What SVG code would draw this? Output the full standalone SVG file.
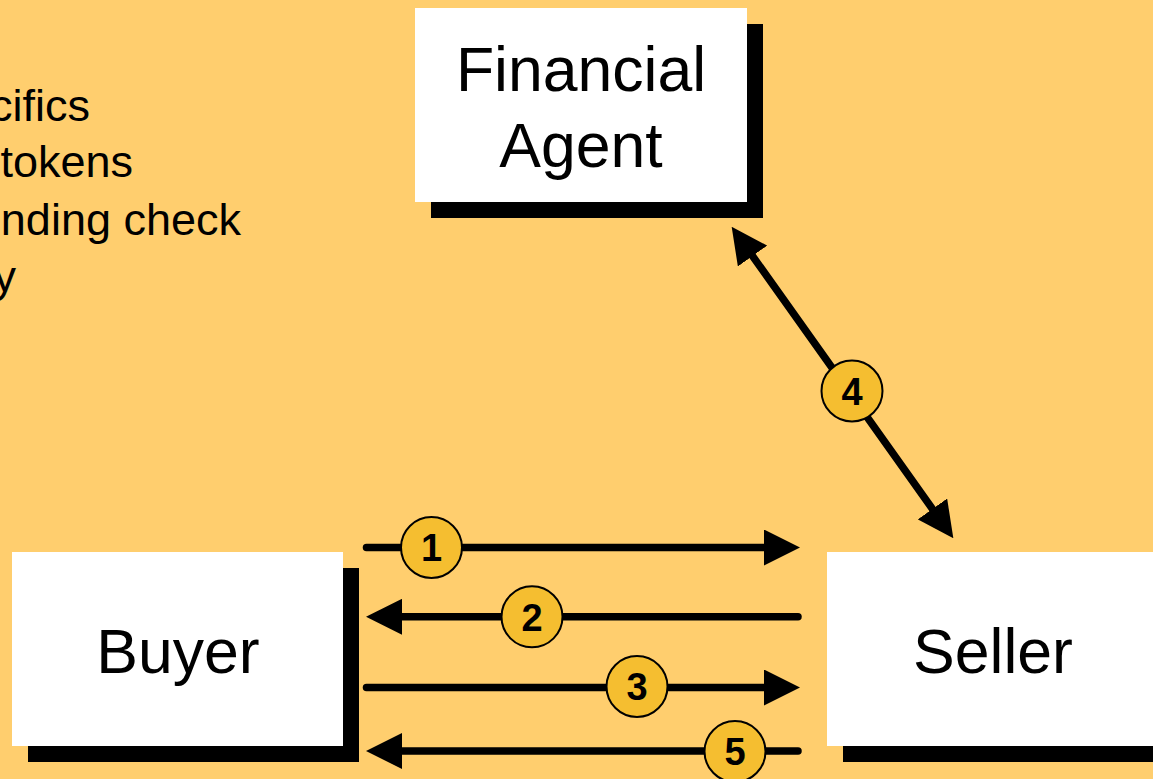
<svg xmlns="http://www.w3.org/2000/svg" width="1153" height="779" viewBox="0 0 1153 779">
  <style>
    .box { fill: #ffffff; }
    .shadow { fill: #000000; }
    .label { font-family: "Liberation Sans", Arial, sans-serif; font-size: 62.5px; fill: #000000; text-anchor: middle; }
    .note { font-family: "Liberation Sans", Arial, sans-serif; font-size: 45px; fill: #000000; text-anchor: end; }
    .flow { stroke: #000000; stroke-width: 7.5; fill: none; stroke-linecap: round; }
    .badge circle { fill: #F5BE30; stroke: #000000; stroke-width: 2; }
    .badge text { font-family: "Liberation Sans", Arial, sans-serif; font-size: 38px; font-weight: bold; fill: #000000; text-anchor: middle; }
  </style>
  <defs>
    <marker id="head" markerUnits="userSpaceOnUse" markerWidth="36" markerHeight="36" viewBox="0 0 36 36" refX="8" refY="18" orient="auto-start-reverse">
      <path d="M0,0 L36,18 L0,36 Z" fill="#000000"/>
    </marker>
  </defs>

  <!-- background -->
  <rect x="0" y="0" width="1153" height="779" fill="#FFCE6E"/>

  <!-- bullet text running off the left edge -->
  <g id="notes">
    <text class="note" x="90" y="120.5">cifics</text>
    <text class="note" x="133" y="177">tokens</text>
    <text class="note" x="241" y="234.5">nding check</text>
    <text class="note" x="16" y="291.5">y</text>
  </g>

  <!-- parties -->
  <g id="financial-agent">
    <rect class="shadow" x="431" y="24" width="332" height="194"/>
    <rect class="box" x="415" y="8" width="332" height="194"/>
    <text class="label" x="581" y="90.5">Financial</text>
    <text class="label" x="581" y="166.5">Agent</text>
  </g>

  <g id="buyer">
    <rect class="shadow" x="28" y="568" width="331" height="194"/>
    <rect class="box" x="12" y="552" width="331" height="194"/>
    <text class="label" x="178" y="672.5">Buyer</text>
  </g>

  <g id="seller">
    <rect class="shadow" x="843" y="568" width="332" height="194"/>
    <rect class="box" x="827" y="552" width="332" height="194"/>
    <text class="label" x="993" y="672.5">Seller</text>
  </g>

  <!-- message flows -->
  <g id="connectors">
    <line class="flow" x1="366.5" y1="547.5" x2="772" y2="547.5" marker-end="url(#head)"/>
    <line class="flow" x1="798" y1="616.8" x2="394" y2="616.8" marker-end="url(#head)"/>
    <line class="flow" x1="366.5" y1="687.5" x2="772" y2="687.5" marker-end="url(#head)"/>
    <line class="flow" x1="798" y1="751" x2="394" y2="751" marker-end="url(#head)"/>
    <line class="flow" x1="747.9" y1="249.5" x2="937.1" y2="515.5" marker-start="url(#head)" marker-end="url(#head)"/>
  </g>

  <!-- step numbers -->
  <g id="step-1" class="badge">
    <circle cx="431.5" cy="547.5" r="30.5"/>
    <text x="431.5" y="561.3">1</text>
  </g>
  <g id="step-2" class="badge">
    <circle cx="532" cy="616.8" r="30.5"/>
    <text x="532" y="630.6">2</text>
  </g>
  <g id="step-3" class="badge">
    <circle cx="637" cy="686.5" r="30.5"/>
    <text x="637" y="700.3">3</text>
  </g>
  <g id="step-4" class="badge">
    <circle cx="852" cy="391" r="30.5"/>
    <text x="852" y="404.8">4</text>
  </g>
  <g id="step-5" class="badge">
    <circle cx="735" cy="751.5" r="30.5"/>
    <text x="735" y="765.3">5</text>
  </g>
</svg>
